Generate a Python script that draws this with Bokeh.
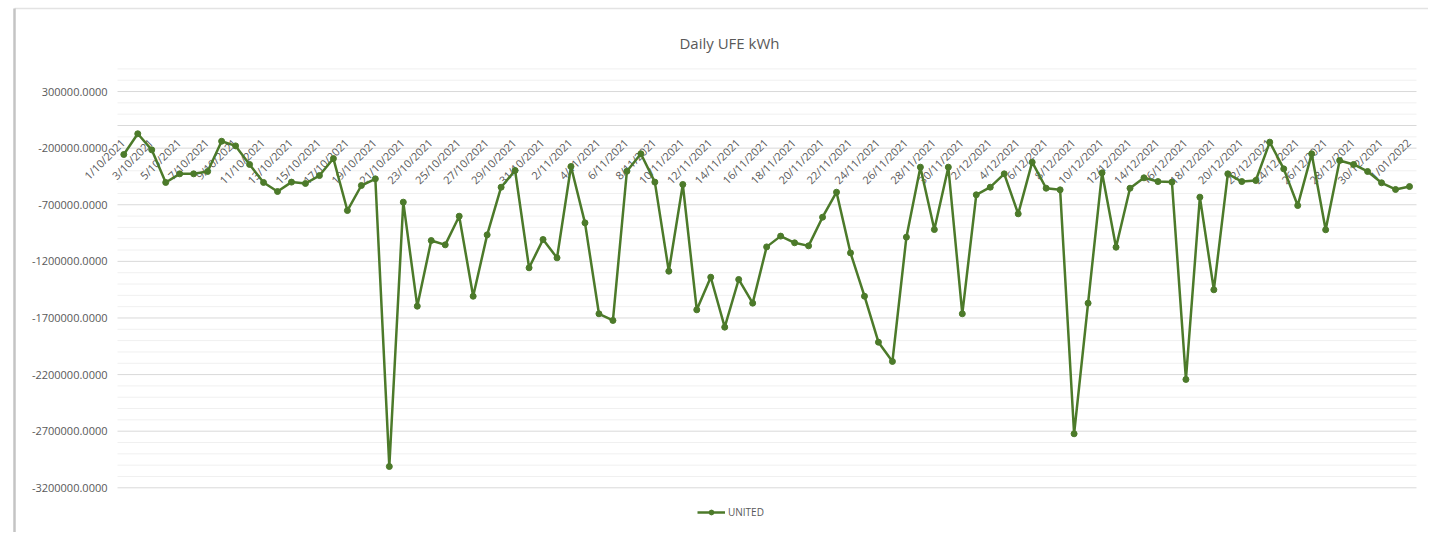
import math
from bokeh.plotting import figure
from bokeh.models import Range1d, ColumnDataSource, Legend, LegendItem, Label
from bokeh.core.properties import value
from bokeh.embed import file_html
from bokeh.resources import INLINE

# ---- data -------------------------------------------------------------
dates = [
    "1/10/2021", "2/10/2021", "3/10/2021", "4/10/2021", "5/10/2021", "6/10/2021",
    "7/10/2021", "8/10/2021", "9/10/2021", "10/10/2021", "11/10/2021", "12/10/2021",
    "13/10/2021", "14/10/2021", "15/10/2021", "16/10/2021", "17/10/2021", "18/10/2021",
    "19/10/2021", "20/10/2021", "21/10/2021", "22/10/2021", "23/10/2021", "24/10/2021",
    "25/10/2021", "26/10/2021", "27/10/2021", "28/10/2021", "29/10/2021", "30/10/2021",
    "31/10/2021",
    "1/11/2021", "2/11/2021", "3/11/2021", "4/11/2021", "5/11/2021", "6/11/2021",
    "7/11/2021", "8/11/2021", "9/11/2021", "10/11/2021", "11/11/2021", "12/11/2021",
    "13/11/2021", "14/11/2021", "15/11/2021", "16/11/2021", "17/11/2021", "18/11/2021",
    "19/11/2021", "20/11/2021", "21/11/2021", "22/11/2021", "23/11/2021", "24/11/2021",
    "25/11/2021", "26/11/2021", "27/11/2021", "28/11/2021", "29/11/2021", "30/11/2021",
    "1/12/2021", "2/12/2021", "3/12/2021", "4/12/2021", "5/12/2021", "6/12/2021",
    "7/12/2021", "8/12/2021", "9/12/2021", "10/12/2021", "11/12/2021", "12/12/2021",
    "13/12/2021", "14/12/2021", "15/12/2021", "16/12/2021", "17/12/2021", "18/12/2021",
    "19/12/2021", "20/12/2021", "21/12/2021", "22/12/2021", "23/12/2021", "24/12/2021",
    "25/12/2021", "26/12/2021", "27/12/2021", "28/12/2021", "29/12/2021", "30/12/2021",
    "31/12/2021", "1/01/2022",
]

united = [
    -256000, -73000, -215000, -503000, -427000, -427000, -406000, -139000, -180000, -344000,
    -503000, -583000, -500000, -512000, -442000, -292000, -751000, -530000, -471000, -3012000,
    -677000, -1596000, -1016000, -1054000, -801000, -1508000, -966000, -545000, -397000, -1257000,
    -1007000, -1169000, -362000, -860000, -1663000, -1722000, -404000, -250000, -500000, -1287000,
    -521000, -1628000, -1340000, -1781000, -1360000, -1569000, -1072000, -977000, -1036000, -1063000,
    -810000, -589000, -1125000, -1508000, -1914000, -2084000, -986000, -368000, -919000, -368000,
    -1663000, -612000, -545000, -427000, -780000, -324000, -554000, -568000, -2723000, -1569000,
    -418000, -1075000, -554000, -462000, -495000, -500000, -2243000, -633000, -1451000, -427000,
    -495000, -486000, -147000, -383000, -707000, -250000, -921000, -309000, -344000, -406000,
    -506000, -565000, -539000,
]

y_ticks = [300000, -200000, -700000, -1200000, -1700000, -2200000, -2700000, -3200000]
y_tick_labels = ["300000.0000", "-200000.0000", "-700000.0000", "-1200000.0000",
                 "-1700000.0000", "-2200000.0000", "-2700000.0000", "-3200000.0000"]
y_minor = [500000, 400000, 200000, 100000, -100000, -300000, -400000, -500000, -600000,
           -800000, -900000, -1000000, -1100000, -1300000, -1400000, -1500000, -1600000,
           -1800000, -1900000, -2000000, -2100000, -2300000, -2400000, -2500000, -2600000,
           -2800000, -2900000, -3000000, -3100000]

title_text = "Daily UFE kWh"
series_name = "UNITED"

# plot-area extent (category index span and value span of the chart's plot area)
AREA_X = (-0.45, 92.5)
AREA_Y = (-3200000, 500000)

# ---- styling ------------------------------------------------------------
GREEN = "#4C7A2A"
GRAY_TXT = "#595959"
FONT = "Open Sans"
W, H = 1428, 532
AREA_PX = (117, 1416, 68.4, 487.3)   # left, right, top, bottom in canvas px

# ranges chosen so that the plot area lands on AREA_PX while the frame fills
# the whole canvas (so labels outside the plot area are not clipped)
sx = (AREA_X[1] - AREA_X[0]) / (AREA_PX[1] - AREA_PX[0])
sy = (AREA_Y[1] - AREA_Y[0]) / (AREA_PX[3] - AREA_PX[2])
x_range = Range1d(AREA_X[0] - AREA_PX[0] * sx, AREA_X[1] + (W - AREA_PX[1]) * sx)
y_range = Range1d(AREA_Y[0] - (H - AREA_PX[3]) * sy, AREA_Y[1] + AREA_PX[2] * sy)


def px_x(px):
    return x_range.start + px * sx


def px_y(py):
    return y_range.end - py * sy


idx = list(range(len(dates)))
src = ColumnDataSource(dict(x=idx, y=united))
lab_idx = idx[::2]
xlab_src = ColumnDataSource(dict(x=lab_idx, y=[0] * len(lab_idx),
                                 t=[dates[i] for i in lab_idx]))
ylab_src = ColumnDataSource(dict(x=[AREA_X[0]] * len(y_ticks), y=y_ticks, t=y_tick_labels))

p = figure(width=W, height=H, output_backend="svg", toolbar_location=None,
           x_range=x_range, y_range=y_range, title=None,
           x_axis_location=None, y_axis_location=None,
           min_border=0, background_fill_color="white",
           border_fill_color="white", outline_line_color=None)
p.grid.visible = False

# chart-area border (top edge and shaded left edge)
p.segment(x0=px_x(14), x1=px_x(W), y0=px_y(8), y1=px_y(8),
          line_color="#e3e3e3", line_width=1.5)
p.segment(x0=px_x(14), x1=px_x(14), y0=px_y(8), y1=px_y(H),
          line_color="#c4c4c4", line_width=2.5)

# gridlines of the plot area
p.segment(x0=AREA_X[0], x1=AREA_X[1], y0=y_minor, y1=y_minor,
          line_color="#f0f0f0", line_width=1)
p.segment(x0=AREA_X[0], x1=AREA_X[1], y0=y_ticks, y1=y_ticks,
          line_color="#d9d9d9", line_width=1)
# category axis line at zero
p.segment(x0=AREA_X[0], x1=AREA_X[1], y0=0, y1=0, line_color="#d9d9d9", line_width=1)

# value-axis labels
p.text(x="x", y="y", text="t", source=ylab_src, text_align="right",
       text_baseline="middle", x_offset=-10, text_font=value(FONT),
       text_font_size="11px", text_color=GRAY_TXT)

# category labels hanging from the zero axis
p.text(x="x", y="y", text="t", source=xlab_src, angle=math.pi / 4,
       text_align="right", text_baseline="middle", x_offset=-1, y_offset=15,
       text_font=value(FONT), text_font_size="11px", text_color=GRAY_TXT)

# series
line_r = p.line(x="x", y="y", source=src, line_color=GREEN, line_width=2.5)
dot_r = p.scatter(x="x", y="y", source=src, marker="circle", size=6,
                  fill_color=GREEN, line_color=GREEN)

# title
p.add_layout(Label(x=43.34, y=733000, text=title_text, text_align="center",
                   text_baseline="middle", text_font=FONT, text_font_size="15px",
                   text_color=GRAY_TXT))

# legend under the plot area
lg = Legend(items=[LegendItem(label=series_name, renderers=[line_r, dot_r])],
            location=(697, 13), orientation="horizontal",
            background_fill_alpha=0, border_line_color=None, padding=0, margin=0,
            glyph_width=28, glyph_height=12, label_height=12,
            label_standoff=3, label_text_font=FONT, label_text_font_size="10px",
            label_text_color=GRAY_TXT)
p.add_layout(lg, "center")

open("out.html", "w").write(file_html(p, INLINE))
